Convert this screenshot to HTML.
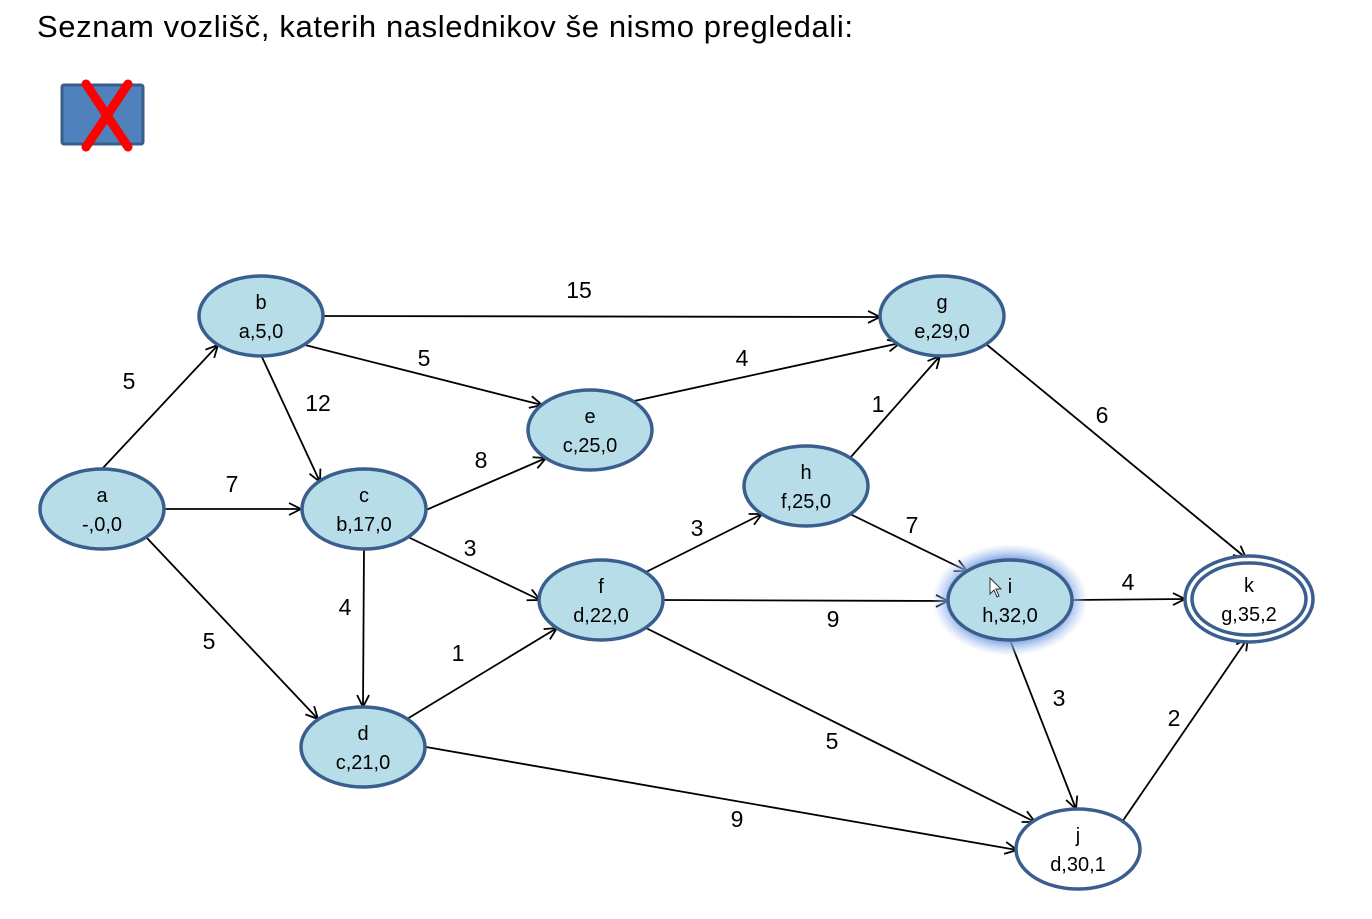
<!DOCTYPE html>
<html><head><meta charset="utf-8"><style>
html,body{margin:0;padding:0;background:#fff;}
svg{display:block;font-family:"Liberation Sans",sans-serif;}
</style></head><body>
<svg width="1372" height="919" viewBox="0 0 1372 919" xmlns="http://www.w3.org/2000/svg">
<defs>
<marker id="ar" markerWidth="16" markerHeight="16" refX="14" refY="8" orient="auto" markerUnits="userSpaceOnUse">
<polyline points="2,2 14,8 2,14" fill="none" stroke="#000" stroke-width="1.8"/>
</marker>
<radialGradient id="glow" cx="50%" cy="50%" r="50%">
<stop offset="75%" stop-color="#7fa6e6" stop-opacity="0.9"/>
<stop offset="100%" stop-color="#a9c3f0" stop-opacity="0"/>
</radialGradient>
</defs>
<text x="37" y="37" font-size="31" textLength="816" fill="#000">Seznam vozlišč, katerih naslednikov še nismo pregledali:</text>
<rect x="62" y="85" width="81" height="59" rx="2" fill="#4f81bd" stroke="#385d8a" stroke-width="3"/>
<line x1="86" y1="84" x2="128" y2="147" stroke="#ff0000" stroke-width="9" stroke-linecap="round"/>
<line x1="128" y1="84" x2="86" y2="147" stroke="#ff0000" stroke-width="9" stroke-linecap="round"/>

<g stroke="#000" stroke-width="1.8" fill="none" marker-end="url(#ar)">
<line x1="102" y1="469" x2="218" y2="345"/>
<line x1="164" y1="509" x2="301" y2="509"/>
<line x1="146" y1="537" x2="318" y2="719"/>
<line x1="323" y1="316" x2="880" y2="317"/>
<line x1="305" y1="345" x2="542" y2="405"/>
<line x1="261" y1="355" x2="320" y2="482"/>
<line x1="426" y1="510" x2="546" y2="458"/>
<line x1="408" y1="537" x2="540" y2="600"/>
<line x1="364" y1="548" x2="363" y2="707"/>
<line x1="407" y1="719" x2="557" y2="628"/>
<line x1="426" y1="747" x2="1017" y2="850"/>
<line x1="634" y1="401" x2="900" y2="343"/>
<line x1="646" y1="572" x2="762" y2="514"/>
<line x1="663" y1="600" x2="948" y2="601"/>
<line x1="646" y1="628" x2="1035" y2="822"/>
<line x1="850" y1="458" x2="940" y2="356"/>
<line x1="850" y1="514" x2="967" y2="571"/>
<line x1="986" y1="344" x2="1246" y2="558"/>
<line x1="1072" y1="600" x2="1185" y2="599"/>
<line x1="1010" y1="640" x2="1076" y2="809"/>
<line x1="1122" y1="822" x2="1248" y2="638"/>
</g>

<ellipse cx="1010" cy="600" rx="78" ry="56" fill="url(#glow)"/>
<g stroke="#3a5f8f" stroke-width="3.5" fill="#b7dde8">
<ellipse cx="102" cy="509" rx="62" ry="40"/>
<ellipse cx="261" cy="316" rx="62" ry="40"/>
<ellipse cx="364" cy="509" rx="62" ry="40"/>
<ellipse cx="363" cy="747" rx="62" ry="40"/>
<ellipse cx="590" cy="430" rx="62" ry="40"/>
<ellipse cx="601" cy="600" rx="62" ry="40"/>
<ellipse cx="942" cy="316" rx="62" ry="40"/>
<ellipse cx="806" cy="486" rx="62" ry="40"/>
<ellipse cx="1010" cy="600" rx="62" ry="40"/>
<ellipse cx="1078" cy="849" rx="62" ry="40" fill="#fff"/>
<ellipse cx="1249" cy="599" rx="64" ry="43" fill="#fff"/>
<ellipse cx="1249" cy="599" rx="57" ry="36" fill="#fff"/>
</g>

<g font-size="20" text-anchor="middle" fill="#000">
<text x="102" y="502">a</text><text x="102" y="531">-,0,0</text>
<text x="261" y="309">b</text><text x="261" y="338">a,5,0</text>
<text x="364" y="502">c</text><text x="364" y="531">b,17,0</text>
<text x="363" y="740">d</text><text x="363" y="769">c,21,0</text>
<text x="590" y="423">e</text><text x="590" y="452">c,25,0</text>
<text x="601" y="593">f</text><text x="601" y="622">d,22,0</text>
<text x="942" y="309">g</text><text x="942" y="338">e,29,0</text>
<text x="806" y="479">h</text><text x="806" y="508">f,25,0</text>
<text x="1010" y="593">i</text><text x="1010" y="622">h,32,0</text>
<text x="1078" y="842">j</text><text x="1078" y="871">d,30,1</text>
<text x="1249" y="592">k</text><text x="1249" y="621">g,35,2</text>
</g>
<path d="M990 578 L990 594 L994 590 L997 597 L999 596 L996 589 L1001 589 Z" fill="#fff" stroke="#333" stroke-width="1"/>

<g font-size="23" text-anchor="middle" fill="#000">
<text x="129" y="389">5</text>
<text x="232" y="492">7</text>
<text x="209" y="649">5</text>
<text x="579" y="298">15</text>
<text x="424" y="366">5</text>
<text x="318" y="411">12</text>
<text x="481" y="468">8</text>
<text x="470" y="556">3</text>
<text x="345" y="615">4</text>
<text x="458" y="661">1</text>
<text x="737" y="827">9</text>
<text x="742" y="366">4</text>
<text x="697" y="536">3</text>
<text x="833" y="627">9</text>
<text x="832" y="749">5</text>
<text x="878" y="412">1</text>
<text x="912" y="533">7</text>
<text x="1102" y="423">6</text>
<text x="1128" y="590">4</text>
<text x="1059" y="706">3</text>
<text x="1174" y="726">2</text>
</g>
</svg>
</body></html>
